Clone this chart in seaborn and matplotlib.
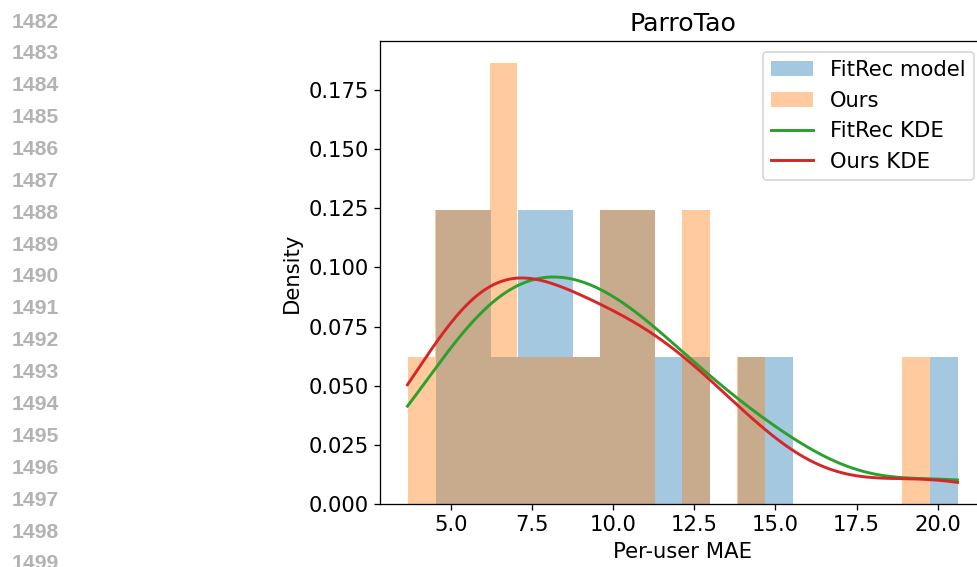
import numpy as np
import matplotlib
matplotlib.use("Agg")
import matplotlib.pyplot as plt
import seaborn as sns

fitrec_mae = [4.53, 5.0, 5.6, 5.95, 6.5, 7.15, 7.5, 8.0, 8.3, 8.95, 9.75, 10.05,
              10.6, 10.95, 11.8, 12.7, 14.4, 15.3, 20.61]
ours_mae = [3.66, 5.1, 5.3, 5.8, 6.05, 6.45, 6.75, 6.95, 7.5, 8.3, 9.4, 10.0,
            10.35, 10.9, 11.2, 12.7, 12.9, 14.6, 19.76]
labels = ["FitRec model", "Ours", "FitRec KDE", "Ours KDE"]
title = "ParroTao"
line_numbers = list(range(1482, 1500))


def gaussian_kde(data, grid):
    d = np.asarray(data, float)
    n = d.size
    bw = d.std(ddof=1) * n ** (-1 / 5)
    z = (grid[:, None] - d[None, :]) / bw
    return np.exp(-0.5 * z ** 2).sum(axis=1) / (n * bw * np.sqrt(2 * np.pi))


DPI = 117
fig = plt.figure(figsize=(977 / DPI, 567 / DPI), dpi=DPI)
ax = fig.add_axes([380 / 977, 63 / 567, 605 / 977, 463 / 567])

sns.histplot(x=fitrec_mae, bins=19, stat="density", color="tab:blue", alpha=0.4,
             linewidth=0, label=labels[0], ax=ax)
sns.histplot(x=ours_mae, bins=19, stat="density", color="tab:orange", alpha=0.4,
             linewidth=0, label=labels[1], ax=ax)

grid = np.linspace(min(min(fitrec_mae), min(ours_mae)),
                   max(max(fitrec_mae), max(ours_mae)), 300)
sns.lineplot(x=grid, y=gaussian_kde(fitrec_mae, grid), color="tab:green",
             linewidth=1.8, label=labels[2], ax=ax)
sns.lineplot(x=grid, y=gaussian_kde(ours_mae, grid), color="tab:red",
             linewidth=1.8, label=labels[3], ax=ax)

ax.set_title(title, fontsize=15.5)
ax.set_xlabel("Per-user MAE", fontsize=13)
ax.set_ylabel("Density", fontsize=13)
ax.tick_params(labelsize=13)
ax.set_xticks([5.0, 7.5, 10.0, 12.5, 15.0, 17.5, 20.0])

h, l = ax.get_legend_handles_labels()
order = [l.index(s) for s in labels]
ax.legend([h[i] for i in order], [l[i] for i in order], loc="upper right", fontsize=13)

for k, num in enumerate(line_numbers):
    fig.text(12 / 977, 1 - (22 + 31.875 * k) / 567, str(num), ha="left", va="center",
             color="#b3b3b3", fontsize=13, fontweight="bold", family="Liberation Sans")

fig.savefig("out.png", dpi=DPI)
